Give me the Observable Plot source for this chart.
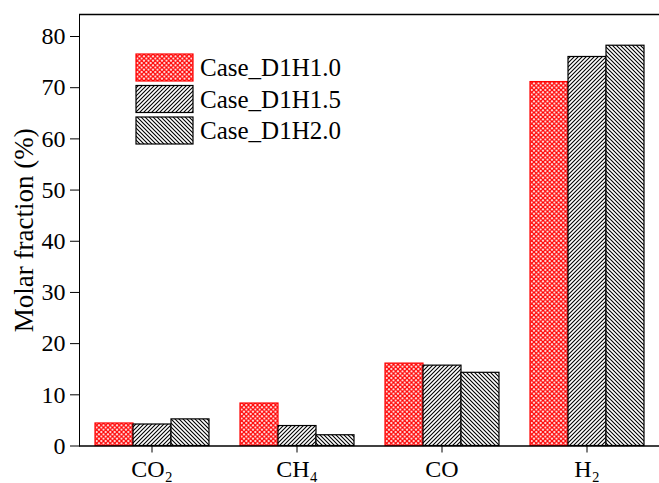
<!DOCTYPE html>
<html><head><meta charset="utf-8">
<script src="https://cdn.jsdelivr.net/npm/d3@7"></script>
<script src="https://cdn.jsdelivr.net/npm/@observablehq/plot@0.6"></script>
<style>
body{margin:0;background:#fff;}
#wrap{position:relative;width:659px;height:483px;}
#wrap svg{overflow:visible;}
g[aria-label="y-axis label"] text{font-size:27px;}
#legend{position:absolute;left:0;top:0;pointer-events:none;}
</style></head><body><div id="wrap"></div>
<script>
const gases = ["CO2", "CH4", "CO", "H2"];
const gasLabels = ["CO₂", "CH₄", "CO", "H₂"];
const cases = ["Case_D1H1.0", "Case_D1H1.5", "Case_D1H2.0"];
const valuesD1H10 = [4.4, 8.3, 16.1, 71.1];
const valuesD1H15 = [4.2, 3.9, 15.7, 76.0];
const valuesD1H20 = [5.2, 2.1, 14.3, 78.2];
const yTicks = [0, 10, 20, 30, 40, 50, 60, 70, 80];
const yMax = 84.3;

const caseFills = ["url(#pRed)", "url(#pFwd)", "url(#pBack)"];
const caseStrokes = ["#ff0000", "#000000", "#000000"];

const seriesValues = [valuesD1H10, valuesD1H15, valuesD1H20];
const data = [];
gases.forEach((g, i) => cases.forEach((c, j) => data.push({gas: g, case: c, value: seriesValues[j][i]})));

const plot = Plot.plot({
  width: 659,
  height: 483,
  marginLeft: 79,
  marginRight: 0,
  marginTop: 14,
  marginBottom: 37.5,
  style: {fontFamily: "'Liberation Serif', 'Times New Roman', serif", fontSize: "24px", color: "#000", background: "#fff"},
  fx: {domain: gases, padding: 0, axis: "bottom", label: null, tickSize: 7, tickPadding: 7,
       tickFormat: d => gasLabels[gases.indexOf(d)]},
  x: {domain: cases, paddingInner: 0, paddingOuter: 0.36, axis: null},
  y: {domain: [0, yMax], ticks: yTicks, tickSize: 9, tickPadding: 5, line: true,
      label: "Molar fraction (%)", labelArrow: "none", labelAnchor: "center", labelOffset: 66},
  marks: [
    Plot.barY(data, {
      fx: "gas", x: "case", y: "value",
      fill: {value: d => caseFills[cases.indexOf(d.case)], scale: null},
      stroke: {value: d => caseStrokes[cases.indexOf(d.case)], scale: null},
      strokeWidth: 1.2, inset: 0
    }),
    Plot.ruleY([0], {strokeWidth: 1.3}),
    Plot.ruleY([yMax], {strokeWidth: 1.3})
  ]
});
document.getElementById("wrap").appendChild(plot);

// legend overlay + pattern definitions
const lg = d3.select("#wrap").append("svg").attr("id", "legend").attr("width", 659).attr("height", 483);
const defs = lg.append("defs");
const pr = defs.append("pattern").attr("id", "pRed").attr("patternUnits", "userSpaceOnUse").attr("width", 4.5).attr("height", 4.5);
pr.append("rect").attr("width", 4.5).attr("height", 4.5).attr("fill", "#fff");
pr.append("path").attr("d", "M0,0L4.5,4.5M4.5,0L0,4.5").attr("stroke", "#ff0000").attr("stroke-width", 1.3);
const pf = defs.append("pattern").attr("id", "pFwd").attr("patternUnits", "userSpaceOnUse").attr("width", 4).attr("height", 4);
pf.append("rect").attr("width", 4).attr("height", 4).attr("fill", "#fff");
pf.append("path").attr("d", "M-1,1L1,-1M0,4L4,0M3,5L5,3").attr("stroke", "#000").attr("stroke-width", 1.1);
const pb = defs.append("pattern").attr("id", "pBack").attr("patternUnits", "userSpaceOnUse").attr("width", 4).attr("height", 4);
pb.append("rect").attr("width", 4).attr("height", 4).attr("fill", "#fff");
pb.append("path").attr("d", "M-1,3L1,5M0,0L4,4M3,-1L5,1").attr("stroke", "#000").attr("stroke-width", 1.1);

const legX = 136, legY = 54, legW = 57, legH = 27, legStep = 31.5;
cases.forEach((c, i) => {
  lg.append("rect").attr("x", legX).attr("y", legY + i * legStep).attr("width", legW).attr("height", legH)
    .attr("fill", caseFills[i]).attr("stroke", caseStrokes[i]).attr("stroke-width", 1.2);
  lg.append("text").attr("x", legX + legW + 7).attr("y", legY + i * legStep + legH / 2)
    .attr("dy", "0.35em").attr("font-family", "'Liberation Serif', 'Times New Roman', serif")
    .attr("font-size", 25).attr("fill", "#000").text(c);
});
</script></body></html>
